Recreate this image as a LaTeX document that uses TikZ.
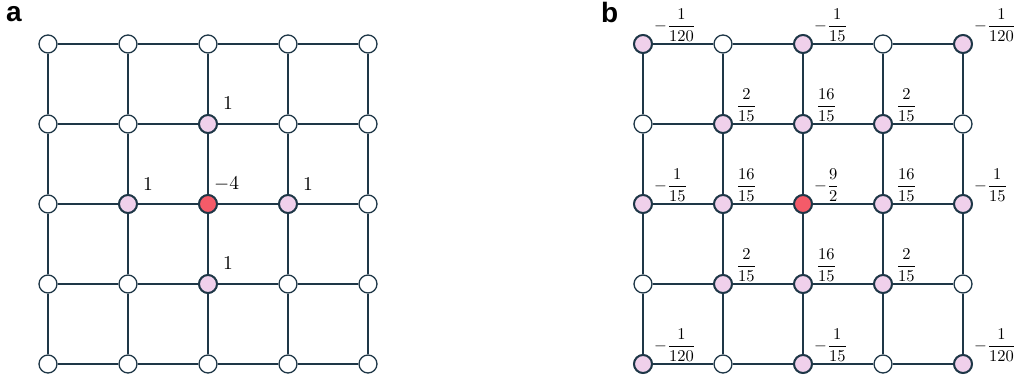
\documentclass[tikz,border=0pt]{standalone}
\usepackage{amsmath}
\usepackage{graphicx}
\usepackage{fontspec}
\newfontfamily\panelfont{Liberation Sans}
\definecolor{edgecol}{HTML}{1E3747}
\definecolor{pinkfill}{HTML}{F0D0EB}
\definecolor{redfill}{HTML}{F45B69}
\newcommand{\biglab}[1]{\scalebox{1.95}{$#1$}}
\newcommand{\fraclab}[1]{\scalebox{1.65}{$#1$}}
\tikzset{
  wnode/.style={circle,inner sep=0pt,minimum size=18pt,fill=white,draw=edgecol,line width=1.3pt},
  pnode/.style={circle,inner sep=0pt,minimum size=18pt,fill=pinkfill,draw=edgecol,line width=2pt},
  rnode/.style={circle,inner sep=0pt,minimum size=18pt,fill=redfill,draw=edgecol,line width=2pt},
  gridedge/.style={draw=edgecol,line width=1.8pt},
  vlab/.style={anchor=west,inner sep=0pt},
  flab/.style={anchor=west,inner sep=0pt},
  plab/.style={anchor=base west,inner sep=0pt,font=\panelfont\bfseries\fontsize{28}{30}\selectfont}
}
\begin{document}
\begin{tikzpicture}[x=1pt,y=-1pt]
\useasboundingbox (0,0) rectangle (1017,379);
% panel labels
\node[plab] (la) at (6,22) {a};
\node[plab] (lb) at (601,23) {b};
% nodes
\foreach \i in {0,...,4}{
  \foreach \j in {0,...,4}{
    \node[wnode] (a-\i-\j) at (48+80*\i,44+80*\j) {};
    \node[wnode] (b-\i-\j) at (643+80*\i,44+80*\j) {};
  }
}
% edges
\foreach \p in {a,b}{
  \foreach \i in {0,...,4}{
    \foreach \j [evaluate=\j as \jn using int(\j+1)] in {0,...,3}{
      \draw[gridedge] (\p-\i-\j) -- (\p-\i-\jn);
      \draw[gridedge] (\p-\j-\i) -- (\p-\jn-\i);
    }
  }
}
% coloured nodes
\foreach \i/\j in {2/1,1/2,3/2,2/3}{
  \node[pnode] at (a-\i-\j) {};
}
\node[rnode] at (a-2-2) {};
\foreach \i/\j in {0/0,2/0,4/0,1/1,2/1,3/1,0/2,1/2,3/2,4/2,1/3,2/3,3/3,0/4,2/4,4/4}{
  \node[pnode] at (b-\i-\j) {};
}
\node[rnode] at (b-2-2) {};
% panel a labels
\node[vlab] (ta1) at ([xshift=15pt,yshift=21pt]a-2-1.center) {\biglab{1}};
\node[vlab] (ta2) at ([xshift=15pt,yshift=20pt]a-1-2.center) {\biglab{1}};
\node[vlab] (ta3) at ([xshift=6pt,yshift=20pt]a-2-2.center) {\biglab{-4}};
\node[vlab] (ta4) at ([xshift=15pt,yshift=20pt]a-3-2.center) {\biglab{1}};
\node[vlab] (ta5) at ([xshift=15pt,yshift=21pt]a-2-3.center) {\biglab{1}};
% panel b labels
\foreach \i/\j/\t/\dx in {
  0/0/{-\dfrac{1}{120}}/11, 2/0/{-\dfrac{1}{15}}/11, 4/0/{-\dfrac{1}{120}}/11,
  1/1/{\dfrac{2}{15}}/13, 2/1/{\dfrac{16}{15}}/13, 3/1/{\dfrac{2}{15}}/13,
  0/2/{-\dfrac{1}{15}}/11, 1/2/{\dfrac{16}{15}}/13, 2/2/{-\dfrac{9}{2}}/11, 3/2/{\dfrac{16}{15}}/13, 4/2/{-\dfrac{1}{15}}/11,
  1/3/{\dfrac{2}{15}}/13, 2/3/{\dfrac{16}{15}}/13, 3/3/{\dfrac{2}{15}}/13,
  0/4/{-\dfrac{1}{120}}/11, 2/4/{-\dfrac{1}{15}}/11, 4/4/{-\dfrac{1}{120}}/11}{
  \node[flab] (tb-\i-\j) at ([xshift=\dx pt,yshift=19pt]b-\i-\j.center) {\fraclab{\t}};
}
\end{tikzpicture}
\end{document}
